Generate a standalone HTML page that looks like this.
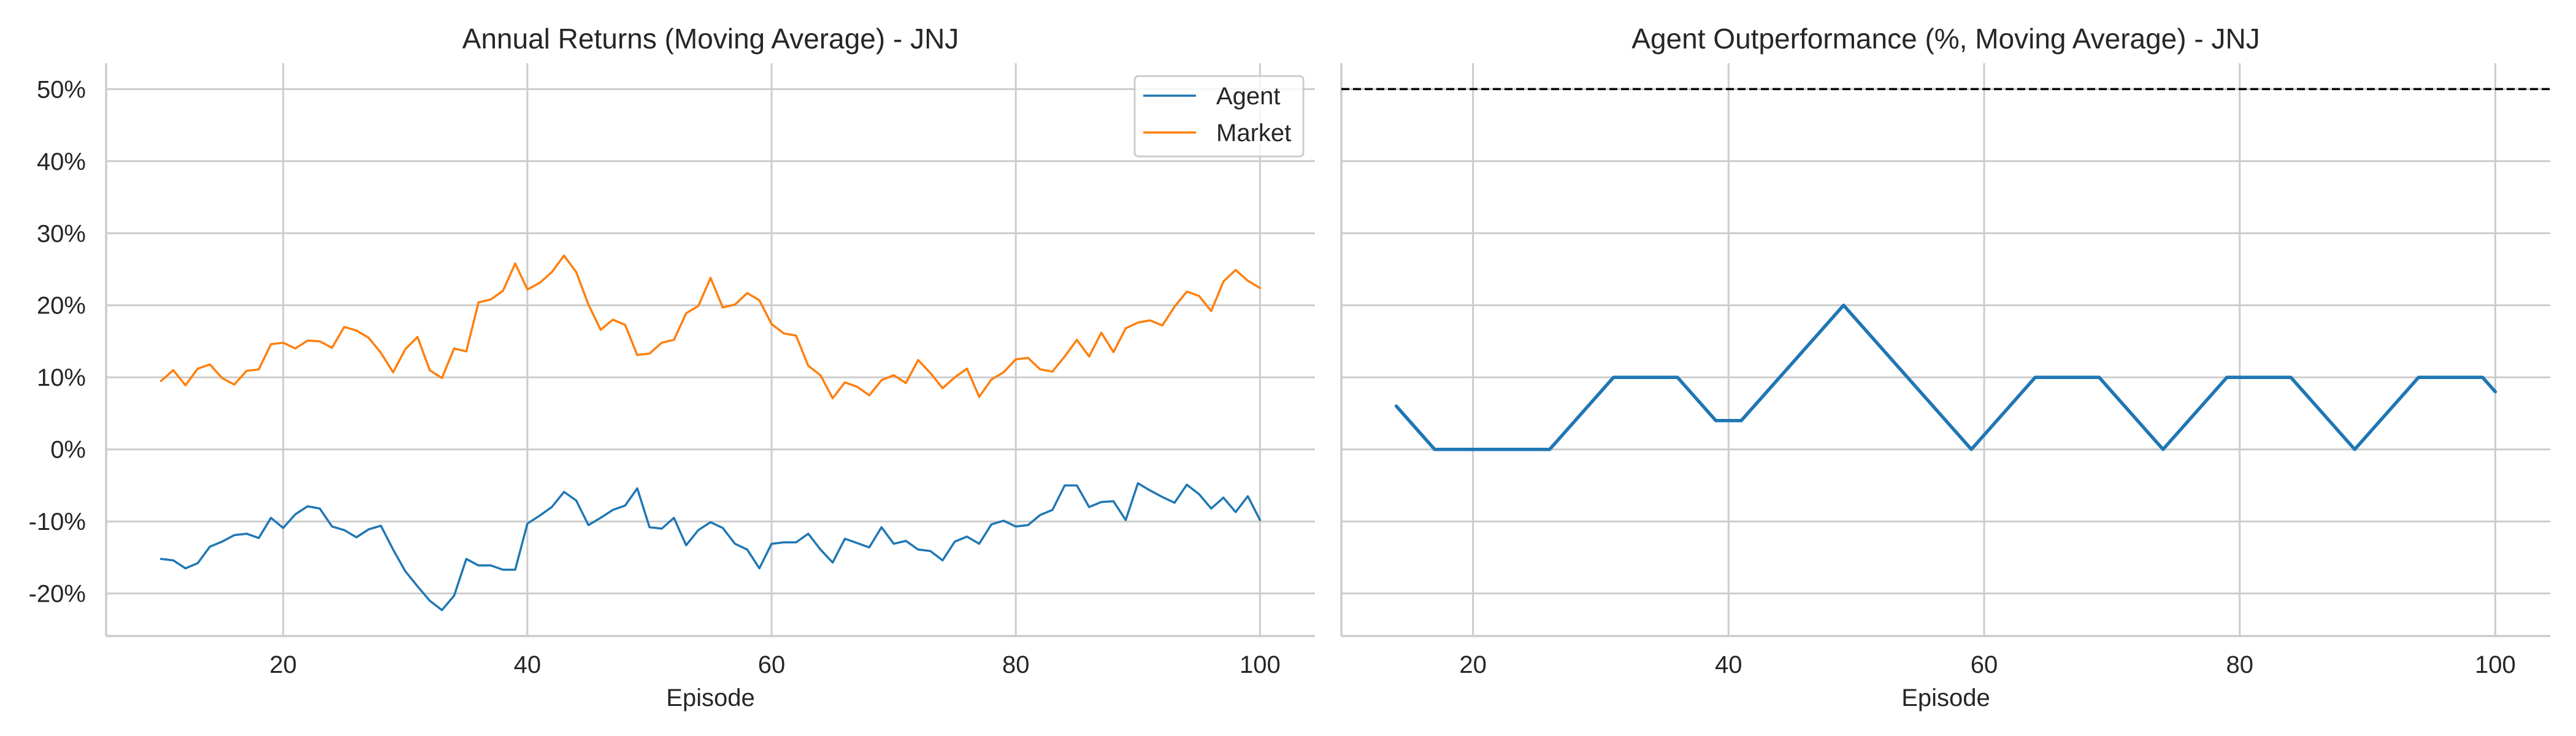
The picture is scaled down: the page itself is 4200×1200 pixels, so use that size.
<!DOCTYPE html>
<html><head><meta charset="utf-8"><style>
html,body{margin:0;padding:0;background:#fff;}
svg{display:block;font-family:"Liberation Sans",Arial,sans-serif;}
</style></head><body>
<svg id="chart" width="4200" height="1200" viewBox="0 0 4200 1200" xmlns="http://www.w3.org/2000/svg">
<rect width="4200" height="1200" fill="#fff"/>
<g id="left"></g>
<g id="right"></g>
</svg>
<script>
const episodes = [];
for (let e = 10; e <= 100; e++) episodes.push(e);
const marketValues = [9.5,11.0,8.9,11.2,11.8,9.9,9.0,10.9,11.1,14.6,14.8,14.0,15.1,15.0,14.1,17.0,16.5,15.5,13.4,10.7,13.9,15.6,11.0,9.9,14.0,13.6,20.4,20.8,22.0,25.8,22.2,23.1,24.6,26.9,24.6,20.1,16.6,18.0,17.3,13.1,13.3,14.8,15.2,18.9,19.9,23.8,19.7,20.1,21.7,20.7,17.4,16.1,15.8,11.6,10.3,7.1,9.3,8.7,7.5,9.6,10.3,9.2,12.4,10.6,8.5,10.0,11.2,7.3,9.7,10.7,12.5,12.7,11.1,10.8,12.9,15.2,12.9,16.2,13.5,16.8,17.6,17.9,17.2,19.8,21.9,21.3,19.2,23.3,24.9,23.4,22.4];
const agentValues = [-15.2,-15.4,-16.5,-15.8,-13.5,-12.8,-11.9,-11.7,-12.3,-9.5,-10.9,-9.0,-7.9,-8.2,-10.7,-11.2,-12.2,-11.1,-10.6,-13.9,-16.9,-19.0,-21.0,-22.3,-20.3,-15.2,-16.1,-16.1,-16.7,-16.7,-10.3,-9.2,-8.0,-5.9,-7.1,-10.5,-9.5,-8.4,-7.8,-5.4,-10.8,-11.0,-9.5,-13.3,-11.2,-10.1,-10.9,-13.1,-13.9,-16.5,-13.1,-12.9,-12.9,-11.7,-13.9,-15.7,-12.4,-13.0,-13.6,-10.8,-13.1,-12.7,-13.9,-14.1,-15.4,-12.8,-12.1,-13.1,-10.4,-9.9,-10.7,-10.5,-9.1,-8.4,-5.0,-5.0,-8.0,-7.3,-7.2,-9.8,-4.7,-5.7,-6.6,-7.4,-4.9,-6.2,-8.2,-6.7,-8.7,-6.5,-9.8];
const outEpisodes = [14,17,26,31,36,39,41,49,59,64,69,74,79,84,89,94,99,100];
const outValues = [6,0,0,10,10,4,4,20,0,10,10,0,10,10,0,10,10,8];
const yTicks = [-20,-10,0,10,20,30,40,50];
const yTickLabels = ["-20%","-10%","0%","10%","20%","30%","40%","50%"];
const xTicks = [20,40,60,80,100];
const xTickLabels = ["20","40","60","80","100"];
const targetLine = 50;

const NS = "http://www.w3.org/2000/svg";
function mk(parent, tag, attrs, text) {
  const el = document.createElementNS(NS, tag);
  for (const k in attrs) el.setAttribute(k, attrs[k]);
  if (text !== undefined) el.textContent = text;
  parent.appendChild(el);
  return el;
}
const TOP = 103, BOT = 1037, YMIN = -25.9, YMAX = 53.6;
function yScale(v) { return BOT - (v - YMIN) / (YMAX - YMIN) * (BOT - TOP); }
function makeX(x0, x1, d0, d1) { return v => x0 + (v - d0) / (d1 - d0) * (x1 - x0); }

function panel(g, L, R, xs, title, showY, prefix) {
  for (let i = 0; i < yTicks.length; i++) {
    const y = yScale(yTicks[i]);
    const gl = mk(g, "line", {x1: L, x2: R, y1: y, y2: y, stroke: "#cccccc", "stroke-width": 3});
    
    
    if (showY) {
      const t = mk(g, "text", {x: L - 33, y: y + 14, "text-anchor": "end", "font-size": 40, fill: "#262626"}, yTickLabels[i]);
      
      
    }
  }
  for (let i = 0; i < xTicks.length; i++) {
    const x = xs(xTicks[i]);
    const gl = mk(g, "line", {x1: x, x2: x, y1: TOP, y2: BOT, stroke: "#cccccc", "stroke-width": 3});
    
    
    const t = mk(g, "text", {x: x, y: 1097, "text-anchor": "middle", "font-size": 40, fill: "#262626"}, xTickLabels[i]);
    
    
  }
  const sl = mk(g, "line", {x1: L, x2: L, y1: TOP, y2: BOT, stroke: "#cccccc", "stroke-width": 3.5});
  
  
  const sb = mk(g, "line", {x1: L, x2: R, y1: BOT, y2: BOT, stroke: "#cccccc", "stroke-width": 3.5});
  
  
  const tt = mk(g, "text", {x: (L + R) / 2, y: 79, "text-anchor": "middle", "font-size": 46, fill: "#262626"}, title);
  
  
  const xl = mk(g, "text", {x: (L + R) / 2, y: 1151, "text-anchor": "middle", "font-size": 40, fill: "#262626"}, "Episode");
  
  
}
function poly(g, xsArr, ysArr, xs, color, w, name) {
  const pts = xsArr.map((e, i) => xs(e).toFixed(1) + "," + yScale(ysArr[i]).toFixed(1)).join(" ");
  const p = mk(g, "polyline", {points: pts, fill: "none", stroke: color, "stroke-width": w, "stroke-linejoin": "round", "stroke-linecap": "round"});
  
  
}

// Left panel
const gL = document.getElementById("left");
const xsL = makeX(173, 2144, 5.5, 104.5);
panel(gL, 173, 2144, xsL, "Annual Returns (Moving Average) - JNJ", true, "left");
poly(gL, episodes, agentValues, xsL, "#1f77b4", 3.5, "agent-line");
poly(gL, episodes, marketValues, xsL, "#ff7f0e", 3.5, "market-line");
const lg = mk(gL, "g", {});


mk(lg, "rect", {x: 1850, y: 124, width: 275, height: 131, rx: 6, fill: "#fff", "fill-opacity": 0.8, stroke: "#cccccc", "stroke-width": 3});
const e1 = mk(lg, "g", {});


mk(e1, "line", {x1: 1864, x2: 1950, y1: 156, y2: 156, stroke: "#1f77b4", "stroke-width": 3.5});
mk(e1, "text", {x: 1983, y: 170, "font-size": 40, fill: "#262626"}, "Agent");
const e2 = mk(lg, "g", {});


mk(e2, "line", {x1: 1864, x2: 1950, y1: 216, y2: 216, stroke: "#ff7f0e", "stroke-width": 3.5});
mk(e2, "text", {x: 1983, y: 230, "font-size": 40, fill: "#262626"}, "Market");

// Right panel
const gR = document.getElementById("right");
const xsR = makeX(2187, 4158, 9.7, 104.3);
panel(gR, 2187, 4158, xsR, "Agent Outperformance (%, Moving Average) - JNJ", false, "right");
const dl = mk(gR, "line", {x1: 2187, x2: 4158, y1: yScale(targetLine), y2: yScale(targetLine), stroke: "#000", "stroke-width": 3.5, "stroke-dasharray": "13,6"});


poly(gR, outEpisodes, outValues, xsR, "#1f77b4", 5.5, "outperformance-line");
</script>
</body></html>
